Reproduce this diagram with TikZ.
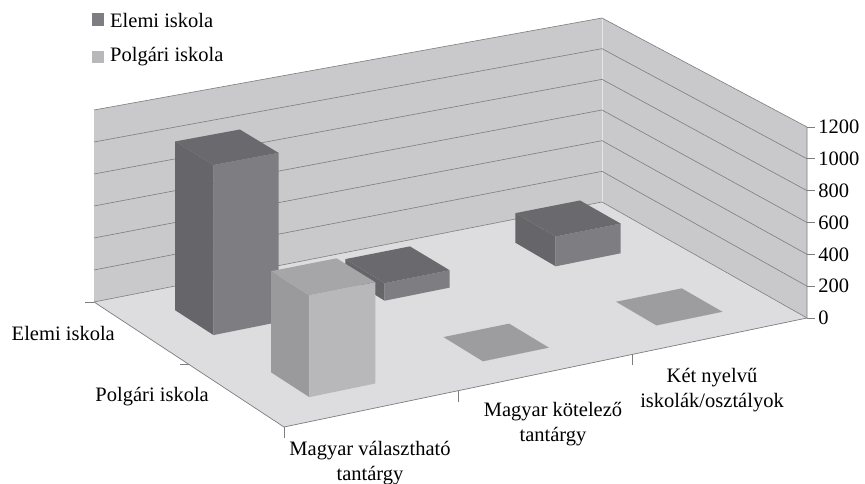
\documentclass[tikz,border=0pt]{standalone}
\usepackage{fontspec}
\setmainfont{Liberation Serif}
\usetikzlibrary{calc}

\definecolor{wallgray}{RGB}{201,201,203}
\definecolor{floorgray}{RGB}{221,221,223}
\definecolor{gridgray}{RGB}{125,125,128}
\definecolor{elemitop}{RGB}{106,106,110}
\definecolor{elemiside}{RGB}{102,102,106}
\definecolor{elemifront}{RGB}{126,126,130}
\definecolor{polgtop}{RGB}{166,166,169}
\definecolor{polgside}{RGB}{154,154,157}
\definecolor{polgfront}{RGB}{184,184,187}
\definecolor{flattop}{RGB}{157,157,160}
\definecolor{flatside}{RGB}{157,157,160}
\definecolor{flatfront}{RGB}{157,157,160}

\tikzset{
  lbl/.style={font=\fontsize{20.5}{25}\selectfont, inner sep=0pt},
  gridline/.style={draw=gridgray, line width=0.6pt},
  axisline/.style={draw=gridgray, line width=0.7pt}
}

% point of the chart: name, category pos (0..3), series pos (0..1), value
\newcommand{\chartpt}[4]{%
  \pgfmathsetmacro{\hpx}{#4/1200*(192-2.667*#2+7*#3)}%
  \pgfmathsetmacro{\ft}{#2/3}%
  \coordinate (tmpb) at ($(BL)!\ft!(BR)$);%
  \coordinate (tmpf) at ($(FL)!\ft!(FR)$);%
  \coordinate (#1) at ($(tmpb)!#3!(tmpf)+(0,-\hpx)$);%
}

% bar: category centre, series front, value, colour prefix
\newcommand{\chartbar}[4]{%
  \pgfmathsetmacro{\ua}{#1-0.19}\pgfmathsetmacro{\ub}{#1+0.19}%
  \pgfmathsetmacro{\va}{#2-0.2}%
  \chartpt{p1}{\ua}{\va}{0}\chartpt{p2}{\ua}{#2}{0}\chartpt{p3}{\ub}{#2}{0}%
  \chartpt{q1}{\ua}{\va}{#3}\chartpt{q2}{\ua}{#2}{#3}%
  \chartpt{q3}{\ub}{#2}{#3}\chartpt{q4}{\ub}{\va}{#3}%
  \fill[#4side] (p1) -- (p2) -- (q2) -- (q1) -- cycle;%
  \fill[#4front] (p2) -- (p3) -- (q3) -- (q2) -- cycle;%
  \fill[#4top] (q1) -- (q2) -- (q3) -- (q4) -- cycle;%
}

\begin{document}
\begin{tikzpicture}[x=1pt,y=-1pt]
  \useasboundingbox (0,0) rectangle (865,484);
  \coordinate (BL) at (94,302);
  \coordinate (BR) at (602,202);
  \coordinate (FL) at (284,427);
  \coordinate (FR) at (807,318);

  % walls and floor
  \chartpt{lwt}{0}{0}{1200}
  \chartpt{cwt}{3}{0}{1200}
  \chartpt{rwt}{3}{1}{1200}
  \fill[wallgray] (BL) -- (BR) -- (cwt) -- (lwt) -- cycle;
  \fill[wallgray] (BR) -- (FR) -- (rwt) -- (cwt) -- cycle;
  \fill[floorgray] (BL) -- (BR) -- (FR) -- (FL) -- cycle;
  \draw[white!80!gray, line width=0.5pt] (BR) -- (cwt);

  % grid lines and value axis
  \foreach \v in {0,200,...,1200} {
    \chartpt{ga}{0}{0}{\v}
    \chartpt{gb}{3}{0}{\v}
    \chartpt{gc}{3}{1}{\v}
    \draw[gridline] (ga) -- (gb) -- (gc);
    \draw[axisline] (gc) -- ++(8,0) node[lbl,anchor=west,xshift=3pt] (val\v) {\v};
  }
  \draw[axisline] (BL) -- (FL) -- (FR) -- (rwt);

  % ticks
  \draw[axisline] (BL) -- ++(-9,0);
  \chartpt{sm}{0}{0.5}{0}
  \draw[axisline] (sm) -- ++(-9,0);
  \foreach \u in {0,1,2} {
    \chartpt{ct}{\u}{1}{0}
    \draw[axisline] (ct) -- ++(0,11);
  }

  % bars
  \chartbar{0.5}{0.35}{1054}{elemi}
  \chartbar{1.5}{0.35}{110}{elemi}
  \chartbar{2.5}{0.35}{190}{elemi}
  \chartbar{0.5}{0.85}{620}{polg}
  \chartbar{1.5}{0.85}{0}{flat}
  \chartbar{2.5}{0.85}{0}{flat}

  % axis labels
  \node[lbl,anchor=east] (elemi) at (115,333) {Elemi iskola};
  \node[lbl,anchor=east] (polg) at (209,397) {Polgári iskola};
  \node[lbl,align=center] (cat1) at (370,463) {Magyar választható\\tantárgy};
  \node[lbl,align=center] (cat2) at (553,424) {Magyar kötelező\\tantárgy};
  \node[lbl,align=center] (cat3) at (712,390) {Két nyelvű\\iskolák/osztályok};

  % legend
  \fill[elemifront] (92,13) rectangle (104,26);
  \node[lbl,anchor=west] (leg1) at (110,20) {Elemi iskola};
  \fill[polgfront] (92,51) rectangle (104,63);
  \node[lbl,anchor=west] (leg2) at (110,57) {Polgári iskola};
\end{tikzpicture}
\end{document}
